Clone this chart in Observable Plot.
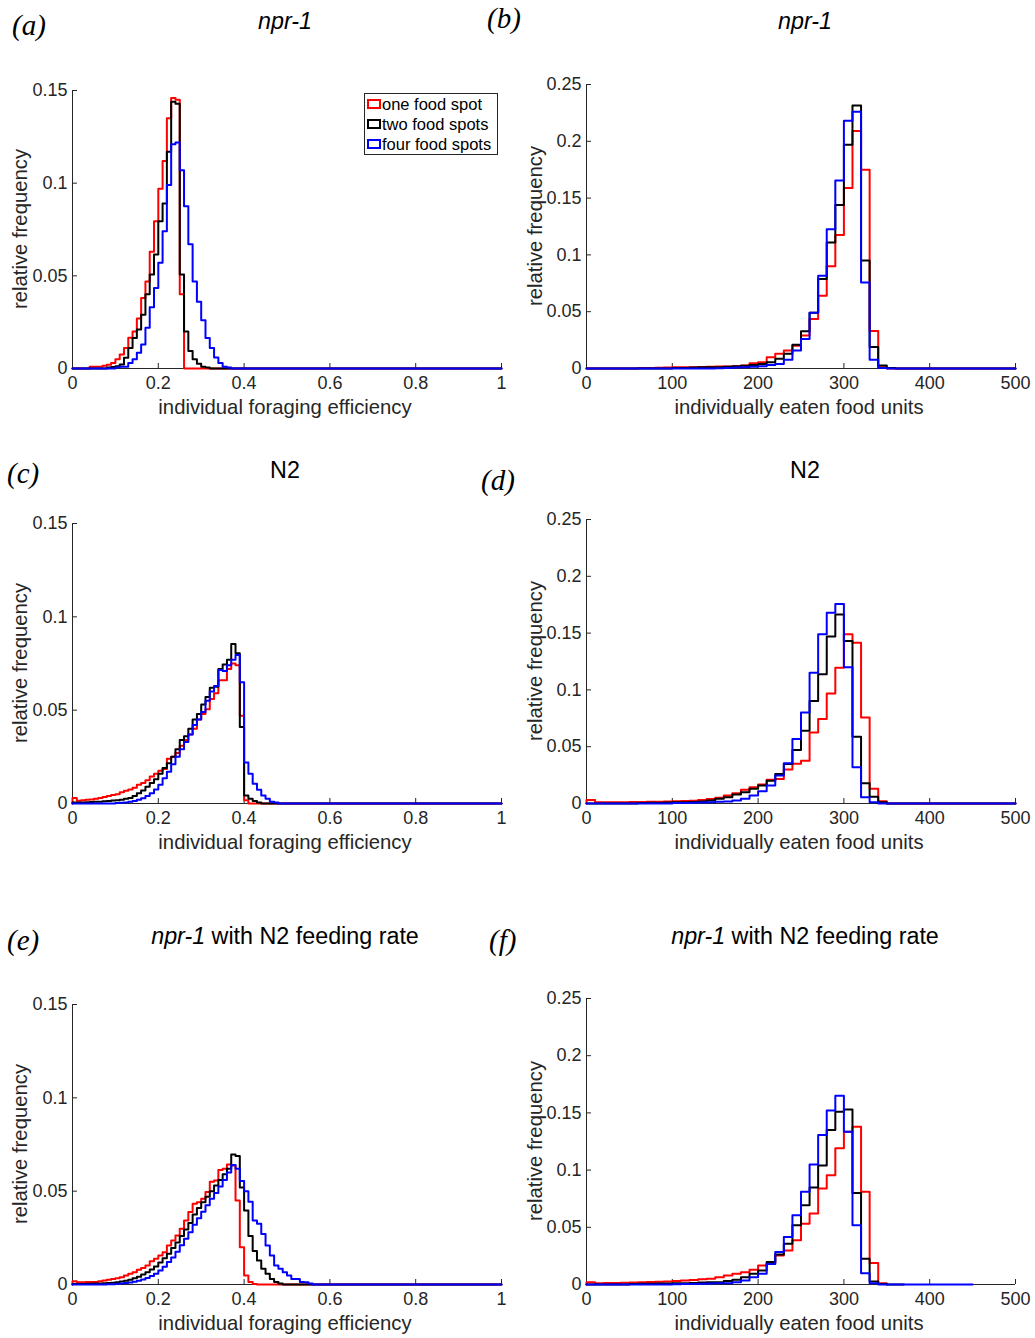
<!DOCTYPE html>
<html>
<head>
<meta charset="utf-8">
<script src="https://cdn.jsdelivr.net/npm/d3@7"></script>
<script src="https://cdn.jsdelivr.net/npm/@observablehq/plot@0.6"></script>
<style>
  body { margin: 0; background: #fff; }
  #root { position: relative; width: 1035px; height: 1338px; overflow: hidden;
          font-family: "Liberation Sans", Arial, Helvetica, sans-serif; color: #262626; }
  .abs { position: absolute; white-space: nowrap; line-height: 1; }
  .letter { font-family: "Liberation Serif", "Times New Roman", serif; font-style: italic; font-size: 29px; color: #000;
            transform: translate(0, -50%); }
  .title { font-size: 23.3px; color: #000; transform: translate(-50%, -50%); }
  .xlab { font-size: 20.3px; transform: translate(-50%, -50%); }
  .ylab { font-size: 20.3px; transform: translate(-50%, -50%) rotate(-90deg); }
  .legend { border: 1px solid #262626; background: #fff; box-sizing: border-box; font-size: 16.5px; color: #000; }
  .legend .row { position: absolute; left: 2px; display: flex; align-items: center; line-height: 1; }
  .legend .sw { width: 10px; height: 6px; border: 2px solid; margin-right: 1px; }
  svg { position: absolute; overflow: visible; }
</style>
</head>
<body>
<div id="root"></div>
<script>
// ---------------- data ----------------
const seriesNames = ["one food spot", "two food spots", "four food spots"];
const binEfficiency = 0.01;
const binFood = 10;
const xTicksEfficiency = [0, 0.2, 0.4, 0.6, 0.8, 1];
const xTicksFood = [0, 100, 200, 300, 400, 500];
const yTicksEfficiency = [0, 0.05, 0.1, 0.15];
const yTicksFood = [0, 0.05, 0.1, 0.15, 0.2, 0.25];

// (a) npr-1, foraging efficiency
const aOneStart = 0.04;
const aOne = [0.001,0.001,0.001,0.0015,0.002,0.003,0.005,0.0075,0.011,0.0166,0.020,0.027,0.038,0.047,0.063,0.0795,0.097,0.112,0.135,0.146,0.145,0.040];
const aTwoStart = 0.08;
const aTwo = [0.0005,0.0008,0.0012,0.0022,0.0058,0.011,0.0165,0.021,0.029,0.040,0.0507,0.0615,0.0795,0.089,0.117,0.1439,0.1428,0.0507,0.020,0.0095,0.005,0.0025,0.001,0.0005];
const aFourStart = 0.10;
const aFour = [0.0005,0.001,0.001,0.003,0.005,0.0085,0.013,0.022,0.033,0.0435,0.057,0.074,0.099,0.121,0.122,0.107,0.0876,0.067,0.047,0.036,0.026,0.0165,0.011,0.006,0.003,0.001,0.0005];

// (b) npr-1, eaten food units
const bOneStart = 60;
const bOne = [0.0005,0.0005,0.0007,0.0008,0.001,0.001,0.0012,0.0013,0.0015,0.0017,0.0018,0.002,0.0026,0.0047,0.0056,0.01,0.0129,0.0158,0.020,0.029,0.0436,0.064,0.090,0.1175,0.159,0.209,0.175,0.033,0.001];
const bTwoStart = 100;
const bTwo = [0.0005,0.0005,0.0008,0.001,0.001,0.0012,0.0015,0.002,0.0025,0.003,0.004,0.0056,0.0085,0.0129,0.021,0.0327,0.049,0.0787,0.111,0.144,0.197,0.2316,0.095,0.019,0.0026,0.0005];
const bFourStart = 150;
const bFour = [0.0003,0.0005,0.0008,0.001,0.0015,0.002,0.003,0.004,0.0076,0.0158,0.026,0.049,0.0816,0.1225,0.1655,0.218,0.226,0.0757,0.0076,0.0005];

// (c) N2, foraging efficiency
const cOneStart = 0;
const cOne = [0.003,0.0015,0.0018,0.002,0.0022,0.0025,0.003,0.0035,0.004,0.0045,0.005,0.006,0.0068,0.0075,0.0085,0.010,0.011,0.0125,0.0145,0.016,0.0175,0.0185,0.024,0.025,0.027,0.031,0.034,0.037,0.040,0.045,0.048,0.0505,0.056,0.059,0.066,0.066,0.072,0.075,0.074,0.047,0.0018];
const cTwoStart = 0;
const cTwo = [0.0005,0.0005,0.0006,0.0007,0.0008,0.0009,0.001,0.0012,0.0014,0.0016,0.0018,0.002,0.0025,0.003,0.004,0.0055,0.007,0.009,0.011,0.013,0.016,0.019,0.0215,0.025,0.029,0.034,0.036,0.040,0.045,0.048,0.053,0.057,0.062,0.0625,0.072,0.0745,0.077,0.0855,0.0805,0.041,0.0043,0.0025,0.0013,0.0005];
const cFourStart = 0.10;
const cFour = [0.0003,0.0004,0.0006,0.0009,0.0013,0.002,0.0028,0.004,0.0055,0.0075,0.010,0.0135,0.017,0.021,0.025,0.029,0.033,0.037,0.042,0.045,0.049,0.055,0.060,0.063,0.0715,0.071,0.074,0.077,0.0796,0.065,0.022,0.016,0.0106,0.0073,0.0043,0.0025,0.001,0.0005];

// (d) N2, eaten food units
const dOneStart = 0;
const dOne = [0.003,0.001,0.001,0.0012,0.0012,0.0013,0.0014,0.0015,0.0016,0.0018,0.002,0.0022,0.0025,0.003,0.004,0.005,0.007,0.009,0.012,0.0143,0.0167,0.0208,0.0216,0.030,0.035,0.0377,0.0626,0.0743,0.0968,0.1196,0.149,0.1415,0.0757,0.0129,0.002];
const dTwoStart = 60;
const dTwo = [0.0005,0.0006,0.0007,0.0008,0.001,0.0012,0.0014,0.0018,0.0026,0.0041,0.0056,0.0079,0.0099,0.0129,0.0158,0.020,0.026,0.0348,0.047,0.064,0.0903,0.1137,0.147,0.1664,0.143,0.0588,0.0178,0.006,0.001];
const dFourStart = 100;
const dFour = [0.0004,0.0005,0.0007,0.0009,0.0012,0.0015,0.0018,0.0026,0.0041,0.007,0.0108,0.0158,0.0246,0.0354,0.0567,0.080,0.115,0.149,0.168,0.1757,0.120,0.0319,0.0056,0.001];

// (e) npr-1 with N2 feeding rate, foraging efficiency
const eOneStart = 0;
const eOne = [0.0018,0.0012,0.0012,0.0013,0.0013,0.0014,0.0018,0.0021,0.0025,0.0029,0.0034,0.0039,0.0048,0.0057,0.0066,0.0079,0.0088,0.0102,0.0125,0.0138,0.0155,0.0173,0.0209,0.0236,0.0263,0.0298,0.0343,0.0388,0.0432,0.0441,0.0459,0.0495,0.055,0.0557,0.0614,0.062,0.0643,0.0638,0.045,0.02,0.0048,0.0013,0.0003];
const eTwoStart = 0;
const eTwo = [0.0003,0.0003,0.0003,0.0004,0.0004,0.0005,0.0006,0.0007,0.0008,0.001,0.0012,0.0016,0.002,0.0026,0.0033,0.0042,0.0053,0.0066,0.008,0.0097,0.0118,0.014,0.0165,0.0195,0.0225,0.026,0.0295,0.033,0.0375,0.041,0.044,0.047,0.050,0.053,0.056,0.059,0.062,0.0696,0.0688,0.052,0.0396,0.026,0.018,0.0129,0.0084,0.0057,0.003,0.0013,0.0005];
const eFourStart = 0.08;
const eFour = [0.0001,0.0002,0.0004,0.0006,0.0008,0.0011,0.0015,0.002,0.0027,0.0035,0.0045,0.0058,0.0075,0.0095,0.012,0.0145,0.0175,0.021,0.0245,0.028,0.032,0.0355,0.039,0.0425,0.046,0.049,0.0525,0.056,0.06,0.064,0.062,0.0555,0.050,0.0443,0.0343,0.0325,0.0271,0.0209,0.0155,0.0102,0.0084,0.0066,0.0048,0.003,0.003,0.0013,0.0012,0.0005];

// (f) npr-1 with N2 feeding rate, eaten food units
const fOneStart = 0;
const fOne = [0.002,0.0012,0.0013,0.0014,0.0015,0.0017,0.0019,0.0021,0.0024,0.0027,0.003,0.0035,0.004,0.0045,0.005,0.0064,0.0079,0.0094,0.0108,0.0129,0.0167,0.0187,0.0254,0.0298,0.0386,0.0532,0.062,0.0839,0.0956,0.119,0.1336,0.138,0.081,0.0187,0.001];
const fTwoStart = 50;
const fTwo = [0.0005,0.0006,0.0007,0.0008,0.0009,0.001,0.0012,0.0014,0.0017,0.002,0.002,0.003,0.0041,0.0064,0.0094,0.0123,0.0196,0.0263,0.0357,0.0518,0.0693,0.0848,0.104,0.135,0.151,0.153,0.080,0.0225,0.0026,0.0005];
const fFourStart = 100;
const fFour = [0.0003,0.0004,0.0005,0.0006,0.0008,0.001,0.0012,0.002,0.0035,0.0064,0.0094,0.018,0.0284,0.0415,0.0605,0.081,0.105,0.1307,0.152,0.165,0.1336,0.0518,0.0099,0.001];
// histogram ranges (data extent of each series)
const fRangeEnds = [350, 370, 450];

// ---------------- styles ----------------
const AX = "#262626";
const seriesColors = ["#ff0000", "#000000", "#0000ff"];

function stairs(start, values, bw, lo, hi) {
  const pts = [{x: lo, y: 0}];
  values.forEach((v, i) => pts.push({x: start + i * bw, y: v}));
  pts.push({x: start + values.length * bw, y: 0});
  pts.push({x: hi, y: 0});
  return pts;
}

const root = document.getElementById("root");
function addText(html, cls, left, top) {
  const d = document.createElement("div");
  d.className = "abs " + cls;
  d.innerHTML = html;
  d.style.left = left + "px";
  d.style.top = top + "px";
  root.appendChild(d);
  return d;
}

const eff = {xDomain: [0, 1], xTicks: xTicksEfficiency, yDomain: [0, 0.15], yTicks: yTicksEfficiency, bw: binEfficiency, xLabel: "individual foraging efficiency"};
const food = {xDomain: [0, 500], xTicks: xTicksFood, yDomain: [0, 0.25], yTicks: yTicksFood, bw: binFood, xLabel: "individually eaten food units"};

const panels = [
  {...eff, col: 0, top: 90, bottom: 368, series: [[aOneStart, aOne, 1], [aTwoStart, aTwo, 1], [aFourStart, aFour, 1]]},
  {...food, col: 1, top: 84, bottom: 368, series: [[bOneStart, bOne, 500], [bTwoStart, bTwo, 500], [bFourStart, bFour, 500]]},
  {...eff, col: 0, top: 523, bottom: 803, series: [[cOneStart, cOne, 1], [cTwoStart, cTwo, 1], [cFourStart, cFour, 1]]},
  {...food, col: 1, top: 519, bottom: 803, series: [[dOneStart, dOne, 500], [dTwoStart, dTwo, 500], [dFourStart, dFour, 500]]},
  {...eff, col: 0, top: 1004, bottom: 1284, series: [[eOneStart, eOne, 1], [eTwoStart, eTwo, 1], [eFourStart, eFour, 1]]},
  {...food, col: 1, top: 998, bottom: 1284, series: [[fOneStart, fOne, fRangeEnds[0]], [fTwoStart, fTwo, fRangeEnds[1]], [fFourStart, fFour, fRangeEnds[2]]]}
];

const fmt = d => String(d);

panels.forEach(p => {
  const svgLeft = p.col === 0 ? 0 : 515;
  const width = p.col === 0 ? 515 : 520;
  const fl = p.col === 0 ? 72 : 586;
  const fr = p.col === 0 ? 501 : 1015;
  const svgTop = p.top - 15;
  const height = p.bottom + 35 - svgTop;
  const lines = p.series.map(([start, values, hi], i) =>
    Plot.line(stairs(start, values, p.bw, p.xDomain[0], hi), {
      x: "x", y: "y", curve: "step-after", stroke: seriesColors[i], strokeWidth: 2
    }));
  const svg = Plot.plot({
    width, height,
    marginLeft: fl - svgLeft, marginRight: svgLeft + width - fr,
    marginTop: p.top - svgTop, marginBottom: svgTop + height - p.bottom,
    x: {domain: p.xDomain},
    y: {domain: p.yDomain},
    style: {fontSize: "18px", fontFamily: '"Liberation Sans", Arial, Helvetica, sans-serif', color: AX, background: "transparent", overflow: "visible"},
    marks: [
      Plot.axisX(p.xTicks, {tickSize: 5, dy: -5, fill: "none", stroke: AX, label: null}),
      Plot.axisX(p.xTicks, {tickSize: 0, tickPadding: 8, fill: AX, stroke: "none", tickFormat: fmt, label: null}),
      Plot.axisY(p.yTicks, {tickSize: 5, dx: 5, fill: "none", stroke: AX, label: null}),
      Plot.axisY(p.yTicks, {tickSize: 0, tickPadding: 5, fill: AX, stroke: "none", tickFormat: fmt, label: null}),
      Plot.ruleX([p.xDomain[0]], {stroke: AX}),
      Plot.ruleY([0], {stroke: AX}),
      ...lines
    ]
  });
  svg.style.left = svgLeft + "px";
  svg.style.top = svgTop + "px";
  root.appendChild(svg);
  const cx = p.col === 0 ? 285 : 799;
  addText(p.xLabel, "xlab", cx, p.bottom + 39);
  addText("relative frequency", "ylab", p.col === 0 ? 20 : 535, (p.top + p.bottom) / 2);
});

// titles and panel letters
addText("(a)", "letter", 12, 25);
addText("(b)", "letter", 487, 18);
addText("(c)", "letter", 7, 473);
addText("(d)", "letter", 481, 480);
addText("(e)", "letter", 7, 940);
addText("(f)", "letter", 489, 940);
addText("<i>npr-1</i>", "title", 285, 22);
addText("<i>npr-1</i>", "title", 805, 22);
addText("N2", "title", 285, 471);
addText("N2", "title", 805, 471);
addText("<i>npr-1</i> with N2 feeding rate", "title", 285, 937);
addText("<i>npr-1</i> with N2 feeding rate", "title", 805, 937);

// legend in panel (a)
const lg = document.createElement("div");
lg.className = "abs legend";
Object.assign(lg.style, {left: "364px", top: "93px", width: "134px", height: "62px"});
seriesNames.forEach((name, i) => {
  const row = document.createElement("div");
  row.className = "row";
  row.style.top = (2 + i * 20) + "px";
  const sw = document.createElement("span");
  sw.className = "sw";
  sw.style.borderColor = seriesColors[i];
  const t = document.createElement("span");
  t.textContent = name;
  row.appendChild(sw);
  row.appendChild(t);
  lg.appendChild(row);
});
root.appendChild(lg);
</script>
</body>
</html>
